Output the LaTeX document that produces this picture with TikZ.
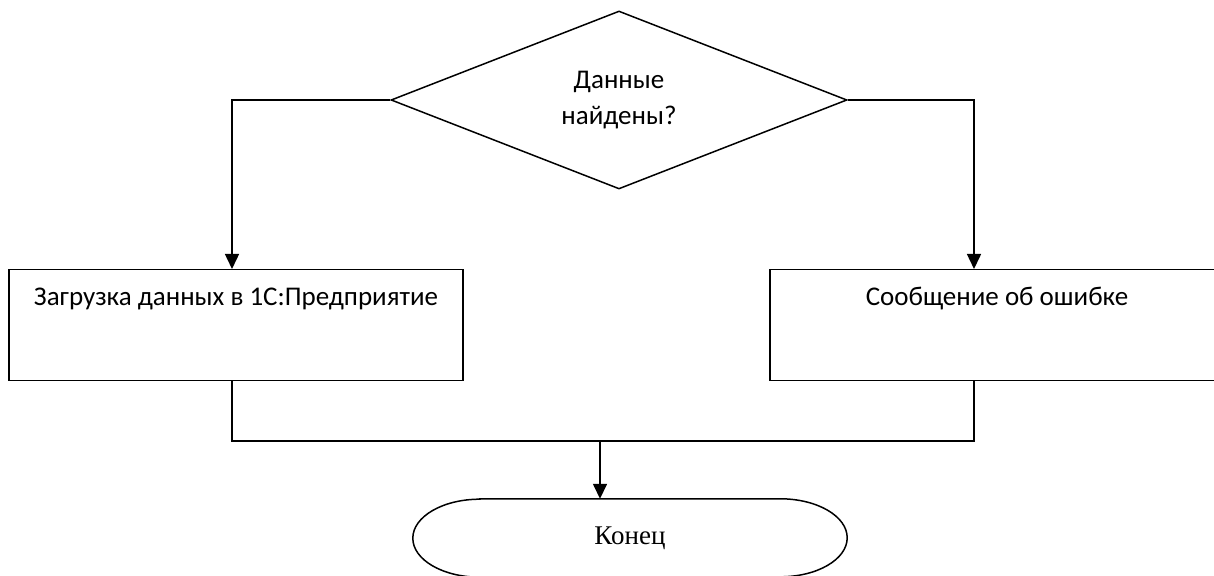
\documentclass[tikz,border=0pt]{standalone}
\usepackage{fontspec}
\setmainfont{Carlito}
\newfontfamily\serifcyr{Liberation Serif}
\usetikzlibrary{shapes.geometric,arrows.meta}

\begin{document}
\begin{tikzpicture}[x=1pt,y=1pt,
  every node/.style={inner sep=0pt, font=\fontsize{27}{36}\selectfont},
  outline/.style={draw, line width=1.5pt},
  procbox/.style={outline, rectangle, anchor=north, minimum width=454pt,
    text height=36pt, text depth=75pt},
  link/.style={line width=1.5pt},
  arr/.style={link, -{Triangle[length=15pt,width=14pt]}}]
  \useasboundingbox (0,0) rectangle (1214,575);

  % decision
  \node[outline, diamond, aspect=2.56, minimum width=456pt, minimum height=178pt,
        align=center] (dec) at (619,475) {Данные\\найдены?};

  % the two branches
  \node[procbox] (load) at (236,306) {Загрузка данных в 1С:Предприятие};
  \node[procbox] (err)  at (997,306) {Сообщение об ошибке};

  % terminator (outline drawn below with elliptical ends)
  \node[minimum width=434pt, minimum height=78pt,
        font=\serifcyr\fontsize{27}{30}\selectfont] (term) at (630,37) {Конец};
  \draw[line width=1.5pt]
    ([xshift=67pt]term.north west) -- ([xshift=-67pt]term.north east)
    arc[start angle=90, end angle=-90, x radius=67pt, y radius=39pt]
    -- ([xshift=67pt]term.south west)
    arc[start angle=270, end angle=90, x radius=67pt, y radius=39pt]
    -- cycle;

  % connectors
  \draw[arr] (dec.west) -| ([xshift=-4pt]load.north);
  \draw[arr] (dec.east) -| ([xshift=-23pt]err.north);
  \coordinate (merge) at (600,134);
  \draw[link] ([xshift=-4pt]load.south) |- (merge) -| ([xshift=-23pt]err.south);
  \draw[arr] (merge) -- (term.north -| merge);
\end{tikzpicture}
\end{document}
